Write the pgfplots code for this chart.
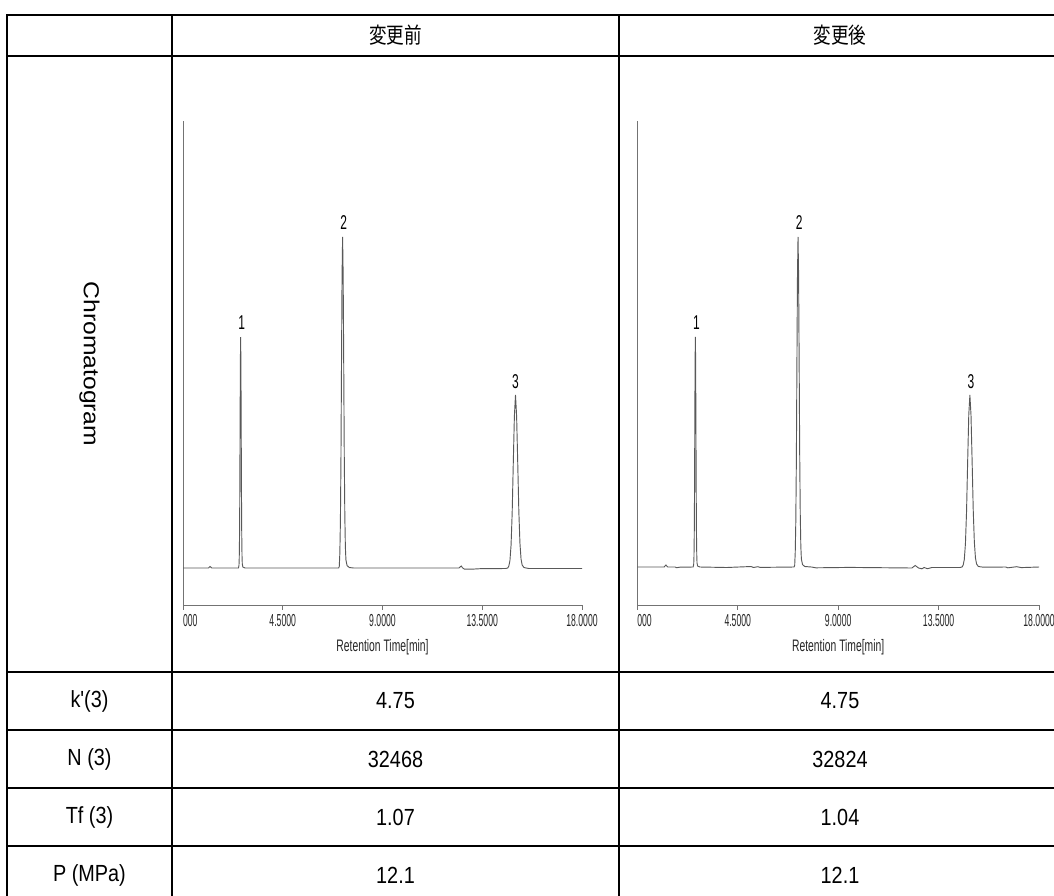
\documentclass[border=0pt]{standalone}
\usepackage{pgfplots}
\pgfplotsset{compat=1.18}
\usepackage{pgfplotstable}
\usepackage{graphicx}
\usepackage{fontspec}
\setmainfont{Liberation Sans}
\newfontfamily\jp{Noto Sans CJK JP}
\newcommand\nar[1]{\scalebox{0.5}[1]{#1}}
\newcommand\tx[1]{\scalebox{0.85}[1]{#1}}

\pgfplotstableread{
t y
0 37
1.15 37
1.22 38.5
1.30 37
2.50 37
2.525 39.5
2.5375 47
2.55 68
2.5625 111
2.575 178
2.5875 240
2.6 268
2.6125 241
2.625 180
2.6375 113
2.65 70
2.6625 49
2.675 41
2.70 38
2.80 37
7.02 37
7.05 38.5
7.075 51.5
7.10 82
7.125 143
7.15 239
7.175 328
7.2 368
7.225 330
7.25 243
7.275 150
7.30 90
7.325 58
7.35 45
7.40 39.5
7.50 37.5
7.70 37
12.45 37
12.55 39
12.62 37
12.70 35.8
13.00 35.8
13.40 36.3
14.55 36.5
14.65 37
14.70 39
14.75 44.6
14.80 60
14.85 92
14.90 142
14.95 189
15.00 210
15.05 189
15.10 143
15.15 94
15.20 62
15.25 46
15.30 40
15.38 37.5
15.60 36.5
18 36.5
}\leftdata

\pgfplotstableread{
t y
0 38
1.20 38
1.28 40
1.36 38
1.70 38
1.75 37.3
1.90 37.8
2.50 38
2.525 40.5
2.5375 48
2.55 69
2.5625 112
2.575 179
2.5875 241
2.6 268
2.6125 242
2.625 181
2.6375 114
2.65 71
2.6625 50
2.675 42
2.70 39
2.80 38
4.00 37.5
5.10 38.5
5.20 37.5
5.40 38.3
5.50 37.6
7.02 38
7.05 39.5
7.075 52.5
7.10 83
7.125 144
7.15 240
7.175 329
7.2 368
7.225 331
7.25 244
7.275 151
7.30 91
7.325 59
7.35 46
7.40 40.5
7.50 38.5
7.80 38
8.00 37.2
9.50 37.6
12.30 37
12.45 39.5
12.60 37
12.75 36.2
12.85 37.5
13.00 36.3
13.20 37.5
14.45 37.5
14.55 38
14.60 40
14.65 45.6
14.70 61
14.75 93
14.80 143
14.85 190
14.90 210
14.95 190
15.00 144
15.05 95
15.10 63
15.15 47
15.20 41
15.28 38.5
15.50 37.8
16.50 38
16.60 37.2
17.00 38.3
17.20 37.4
18 38
}\rightdata

\pgfplotsset{chrom/.style={
  scale only axis, height=363pt,
  xmin=0, xmax=18, ymin=0, ymax=484,
  axis lines=left,
  axis line style={-, draw=black!55, line width=0.7pt},
  xtick={0,4.5,9,13.5,18},
  xticklabels={\makebox[0pt][l]{\nar{000}}, \nar{4.5000}, \nar{9.0000}, \nar{13.5000}, \nar{18.0000}},
  ytick=\empty,
  tick align=outside, major tick length=3.5pt,
  xtick style={draw=black!55, line width=0.7pt},
  xticklabel style={font=\fontsize{13}{15}\selectfont, text=black!85, inner sep=1pt, yshift=-2pt},
  every axis x label/.style={at={(axis description cs:0.5,0)}, anchor=center, yshift=-31.5pt, font=\fontsize{12.5}{14}\selectfont, text=black!85},
  xlabel={\scalebox{0.62}[1]{Retention Time[min]}},
  clip=false,
  anchor=south west,
  every axis plot/.style={draw=black!65, line width=0.7pt},
}}

\begin{document}
\begin{tikzpicture}
\useasboundingbox (0,0) rectangle (790.5pt,-672pt);
\clip (0,0) rectangle (790.5pt,-672pt);

\begin{axis}[chrom, at={(137.25pt,-453.75pt)}, width=299.25pt]
\addplot[no marks] table[x=t,y=y] {\leftdata};
\node[font=\fontsize{15}{16}\selectfont, anchor=center] at (axis cs:2.65,282) {\scalebox{0.6}[1]{1}};
\node[font=\fontsize{15}{16}\selectfont, anchor=center] at (axis cs:7.25,382) {\scalebox{0.6}[1]{2}};
\node[font=\fontsize{15}{16}\selectfont, anchor=center] at (axis cs:15.0,223) {\scalebox{0.6}[1]{3}};
\end{axis}

\begin{axis}[chrom, at={(478pt,-453.75pt)}, width=301.3pt]
\addplot[no marks] table[x=t,y=y] {\rightdata};
\node[font=\fontsize{15}{16}\selectfont, anchor=center] at (axis cs:2.65,282) {\scalebox{0.6}[1]{1}};
\node[font=\fontsize{15}{16}\selectfont, anchor=center] at (axis cs:7.25,382) {\scalebox{0.6}[1]{2}};
\node[font=\fontsize{15}{16}\selectfont, anchor=center] at (axis cs:14.95,223) {\scalebox{0.6}[1]{3}};
\end{axis}

\begin{scope}[x=0.75pt,y=-0.75pt]
\begin{scope}[line width=2.1pt, line cap=rect]
\foreach \yy in {15,56,672,730,788,846} \draw (7,\yy) -- (1065,\yy);
\foreach \xx in {7,172,619} \draw (\xx,15) -- (\xx,910);
\end{scope}
\node[font=\jp\fontsize{16.5}{18}\selectfont] at (395.5,35.5) {\scalebox{0.8}[1]{変更前}};
\node[font=\jp\fontsize{16.5}{18}\selectfont] at (840,35.5) {\scalebox{0.8}[1]{変更後}};
\node[font=\fontsize{18.5}{20}\selectfont, rotate=-90] at (89.5,364) {\scalebox{1}[0.88]{Chromatogram}};
\foreach \yy/\a/\b/\c in {701/k\textquotesingle(3)/4.75/4.75, 759/N (3)/32468/32824, 817/Tf (3)/1.07/1.04, 875/P (MPa)/12.1/12.1}{
  \node[font=\fontsize{17.5}{18}\selectfont] at (89.5,\yy) {\tx{\a}};
  \node[font=\fontsize{17.5}{18}\selectfont] at (395.5,\yy) {\tx{\b}};
  \node[font=\fontsize{17.5}{18}\selectfont] at (840,\yy) {\tx{\c}};
}
\end{scope}
\end{tikzpicture}
\end{document}
